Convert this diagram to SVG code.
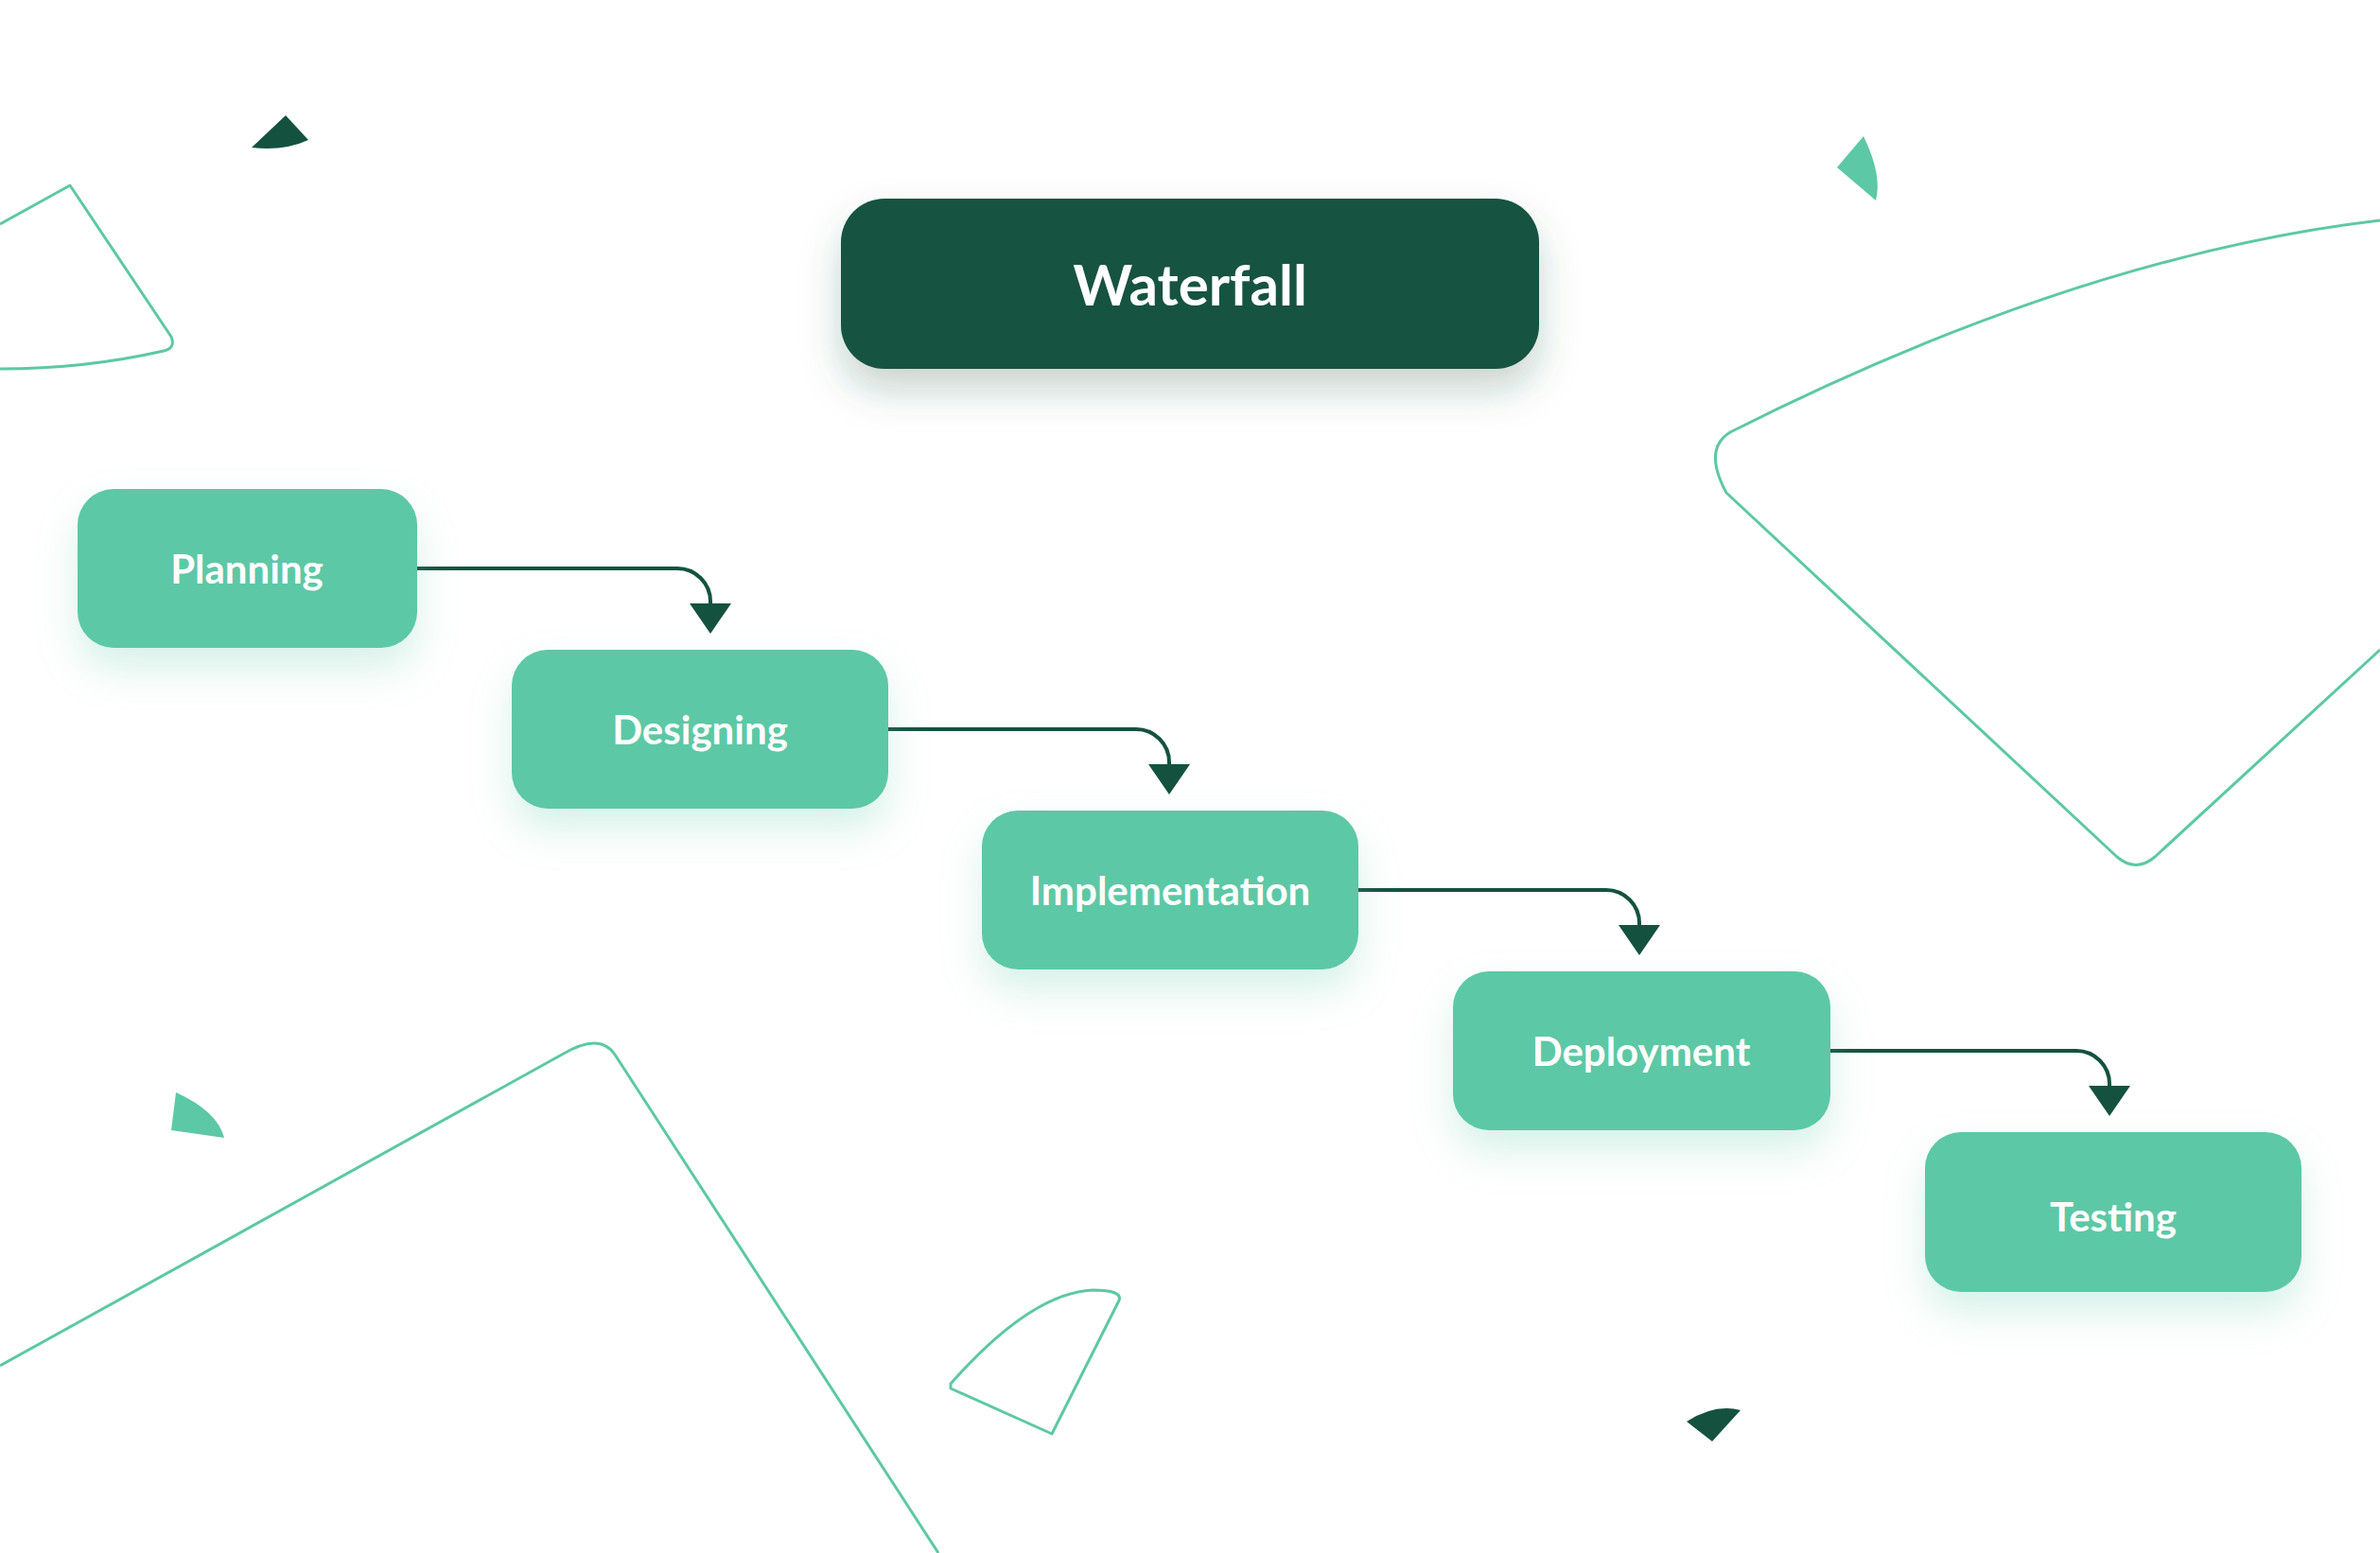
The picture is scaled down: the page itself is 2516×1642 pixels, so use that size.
<svg xmlns="http://www.w3.org/2000/svg" width="2516" height="1642" viewBox="0 0 2516 1642">
<style>
.node{fill:#5DC8A5;filter:url(#sh)}
.lbl{font-family:Lato,"Open Sans","Liberation Sans",sans-serif;font-weight:bold;fill:#fff;font-size:42px;text-anchor:middle;dominant-baseline:central}
.deco{fill:none;stroke:#5DC8A5;stroke-width:3;stroke-linejoin:round}
.conn{fill:none;stroke:#14523F;stroke-width:4}
.head{fill:#14523F}
</style>
<defs>
<filter id="sh" x="-20%" y="-20%" width="140%" height="160%"><feDropShadow dx="0" dy="22" stdDeviation="20" flood-color="#5DC8A5" flood-opacity="0.25"/></filter>
<filter id="sh2" x="-20%" y="-20%" width="140%" height="160%"><feDropShadow dx="0" dy="22" stdDeviation="20" flood-color="#14523F" flood-opacity="0.25"/></filter>
</defs>
<rect width="2516" height="1642" fill="#fff"/>
<g id="decor">
<path class="deco" d="M0 237 L74 196 L181 356 Q186 368 173 371 Q90 390 0 390"/>
<path class="deco" d="M2516 233 Q2200 270 1829 457 Q1800 475 1825 521 L2238 906 Q2258 923 2278 906 L2516 687"/>
<path class="deco" d="M0 1444 L594 1115 Q634 1091 650 1115 L992 1642"/>
<path class="deco" d="M1005 1468 L1112 1516 L1183 1375 Q1187 1364 1155 1364 Q1090 1367 1005 1463 Z"/>
<path fill="#14523F" d="M266 156 L302 122 L326 148 Q300 160 266 156 Z"/>
<path fill="#5DC8A5" d="M1942 177 L1970 144 Q1990 185 1983 212 Z"/>
<path fill="#5DC8A5" d="M181 1195 L186 1155 Q230 1175 237 1203 Z"/>
<path fill="#14523F" d="M1783 1503 Q1813 1484 1840 1491 L1810 1524 Z"/>
</g>
<g id="connectors">
<path class="conn" d="M441 601 H716 A35 35 0 0 1 751 636 V642"/>
<polygon class="head" points="729,638 773,638 751,670"/>
<path class="conn" d="M939 771 H1201 A35 35 0 0 1 1236 806 V812"/>
<polygon class="head" points="1214,808 1258,808 1236,840"/>
<path class="conn" d="M1436 941 H1698 A35 35 0 0 1 1733 976 V982"/>
<polygon class="head" points="1711,978 1755,978 1733,1010"/>
<path class="conn" d="M1935 1111 H2195 A35 35 0 0 1 2230 1146 V1152"/>
<polygon class="head" points="2208,1148 2252,1148 2230,1180"/>
</g>
<g id="waterfall">
<rect x="889" y="210" width="738" height="180" rx="46" fill="#14523F" filter="url(#sh2)"/>
<text class="lbl" x="1258" y="300" style="font-size:60px">Waterfall</text>
</g>
<g id="planning"><rect class="node" x="82" y="517" width="359" height="168" rx="38"/><text class="lbl" x="261" y="601">Planning</text></g>
<g id="designing"><rect class="node" x="541" y="687" width="398" height="168" rx="38"/><text class="lbl" x="740" y="771">Designing</text></g>
<g id="implementation"><rect class="node" x="1038" y="857" width="398" height="168" rx="38"/><text class="lbl" x="1237" y="941">Implementation</text></g>
<g id="deployment"><rect class="node" x="1536" y="1027" width="399" height="168" rx="38"/><text class="lbl" x="1735" y="1111">Deployment</text></g>
<g id="testing"><rect class="node" x="2035" y="1197" width="398" height="169" rx="38"/><text class="lbl" x="2234" y="1286">Testing</text></g>
</svg>
